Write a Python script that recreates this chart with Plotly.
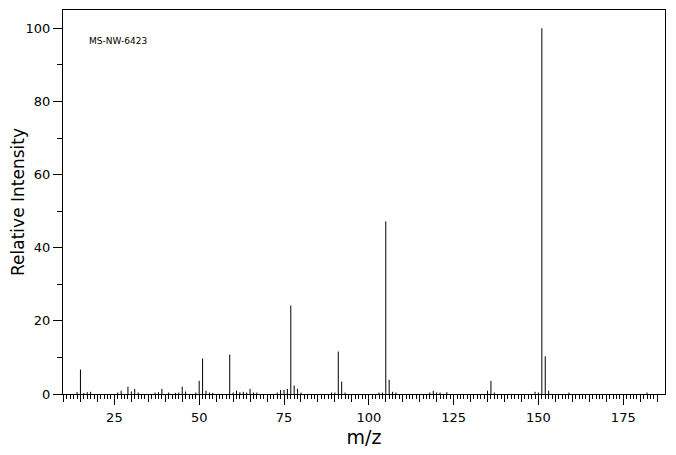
import plotly.graph_objects as go

# m/z values and relative intensities
mz = [14, 15, 16, 17, 18, 26, 27, 29, 30, 31, 32, 37, 38, 39, 41, 43, 44, 45, 46,
      49, 50, 51, 52, 53, 54, 59, 60, 61, 62, 63, 64, 65, 66, 67, 73, 74, 75, 76,
      77, 78, 79, 80, 89, 90, 91, 92, 93, 103, 104, 105, 106, 107, 108, 118, 119,
      120, 121, 123, 135, 136, 137, 149, 150, 151, 152, 153, 159, 182]
intensity = [0.5, 6.7, 0.3, 0.5, 0.6, 0.4, 0.9, 2.0, 0.7, 1.4, 0.4, 0.4, 0.5, 1.4,
             0.4, 0.3, 0.4, 2.0, 0.7, 0.4, 3.6, 9.7, 0.9, 0.4, 0.3, 10.8, 0.4, 0.9,
             0.5, 0.6, 0.4, 1.4, 0.4, 0.4, 0.4, 1.1, 1.1, 1.4, 24.2, 2.3, 1.4, 0.4,
             0.4, 0.4, 11.6, 3.4, 0.4, 0.4, 0.4, 47.2, 3.9, 0.6, 0.4, 0.4, 0.9, 0.4,
             0.4, 0.5, 0.9, 3.6, 0.4, 0.6, 0.4, 100.0, 10.3, 0.9, 0.4, 0.4]

x_tick_labels = [25, 50, 75, 100, 125, 150, 175]
y_tick_labels = [0, 20, 40, 60, 80, 100]
label_text = "MS-NW-6423"

# build stick lines
xs, ys = [], []
for m, v in zip(mz, intensity):
    xs += [m, m, None]
    ys += [0, v, None]

FONT = "DejaVu Sans"
xr = [9.86, 187.3]

fig = go.Figure()
fig.add_trace(go.Scatter(x=xs, y=ys, mode="lines",
                         line=dict(color="black", width=1),
                         hoverinfo="skip", showlegend=False))
fig.add_trace(go.Scatter(x=[None], y=[None], xaxis="x2", mode="lines",
                         showlegend=False, hoverinfo="skip"))

unit_ticks = list(range(10, 186))
five_ticks = list(range(10, 186, 5))

fig.update_layout(
    width=668, height=447,
    margin=dict(l=55, r=11, t=2, b=61),
    paper_bgcolor="white", plot_bgcolor="white",
    font=dict(family=FONT, color="black", size=13),
    xaxis=dict(range=xr, showgrid=False, zeroline=False,
               showline=True, mirror=True, linecolor="black", linewidth=1,
               ticks="outside", tickmode="array", tickvals=five_ticks,
               ticklen=7, tickwidth=1, tickcolor="black", showticklabels=False,
               minor=dict(tickmode="array", tickvals=unit_ticks, ticks="outside",
                          ticklen=4, tickwidth=1, tickcolor="black", showgrid=False)),
    xaxis2=dict(range=xr, overlaying="x", anchor="y", side="bottom",
                showgrid=False, zeroline=False, showline=False,
                ticks="outside", tickmode="array", tickvals=x_tick_labels,
                ticklen=10, tickwidth=1, tickcolor="black",
                tickfont=dict(family=FONT, size=13),
                ticklabelstandoff=1,
                title=dict(text="m/z", font=dict(family=FONT, size=19), standoff=7)),
    yaxis=dict(range=[0, 105], showgrid=False, zeroline=False,
               showline=True, mirror=True, linecolor="black", linewidth=1,
               ticks="outside", tickmode="array", tickvals=y_tick_labels,
               ticklen=9, tickwidth=1, tickcolor="black",
               tickfont=dict(family=FONT, size=13),
               minor=dict(dtick=10, ticks="outside", ticklen=5, tickwidth=1,
                          tickcolor="black", showgrid=False),
               title=dict(text="Relative Intensity", font=dict(family=FONT, size=17),
                          standoff=0)),
    annotations=[dict(text=label_text, xref="paper", yref="paper",
                      x=0.04, y=0.919, xanchor="left", yanchor="middle",
                      showarrow=False, font=dict(family=FONT, size=9))],
)

fig.write_html("out.html")
